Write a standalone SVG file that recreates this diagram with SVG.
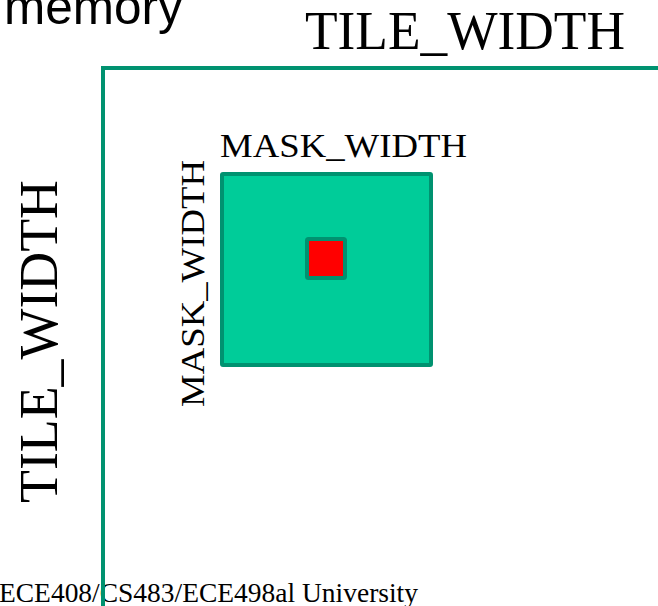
<svg xmlns="http://www.w3.org/2000/svg" width="658" height="606" viewBox="0 0 658 606">
<style>
.serif{font-family:"Liberation Serif","Times New Roman",serif;fill:#000}
.sans{font-family:"Liberation Sans",Arial,sans-serif;fill:#000}
.edge{fill:none;stroke:#009270;stroke-width:4}
.mask{fill:#00cc99;stroke:#009270;stroke-width:4}
.pix{fill:#ff0000;stroke:#009270;stroke-width:4}
</style>
<rect width="658" height="606" fill="#fff"/>
<g id="labels">
<text class="sans" x="4" y="24" font-size="49.5">memory</text>
<text class="serif" x="465" y="49" font-size="54" text-anchor="middle" textLength="320" lengthAdjust="spacingAndGlyphs">TILE_WIDTH</text>
<text class="serif" transform="translate(57,341.5) rotate(-90)" x="0" y="0" font-size="54" text-anchor="middle" textLength="323" lengthAdjust="spacingAndGlyphs">TILE_WIDTH</text>
<text class="serif" x="343.5" y="157" font-size="34" text-anchor="middle" textLength="247" lengthAdjust="spacingAndGlyphs">MASK_WIDTH</text>
<text class="serif" transform="translate(204,283.5) rotate(-90)" x="0" y="0" font-size="34" text-anchor="middle" textLength="247" lengthAdjust="spacingAndGlyphs">MASK_WIDTH</text>
<text class="serif" x="-1" y="602" font-size="27.5" textLength="419" lengthAdjust="spacingAndGlyphs">ECE408/CS483/ECE498al University</text>
</g>
<g id="mask">
<rect class="mask" x="222" y="174" width="209" height="191" rx="1"/>
</g>
<g id="pixel">
<rect class="pix" x="307" y="239" width="38" height="39" rx="1.5"/>
</g>
<g id="connectors">
<path class="edge" d="M103 606 V68 H658"/>
</g>
</svg>
